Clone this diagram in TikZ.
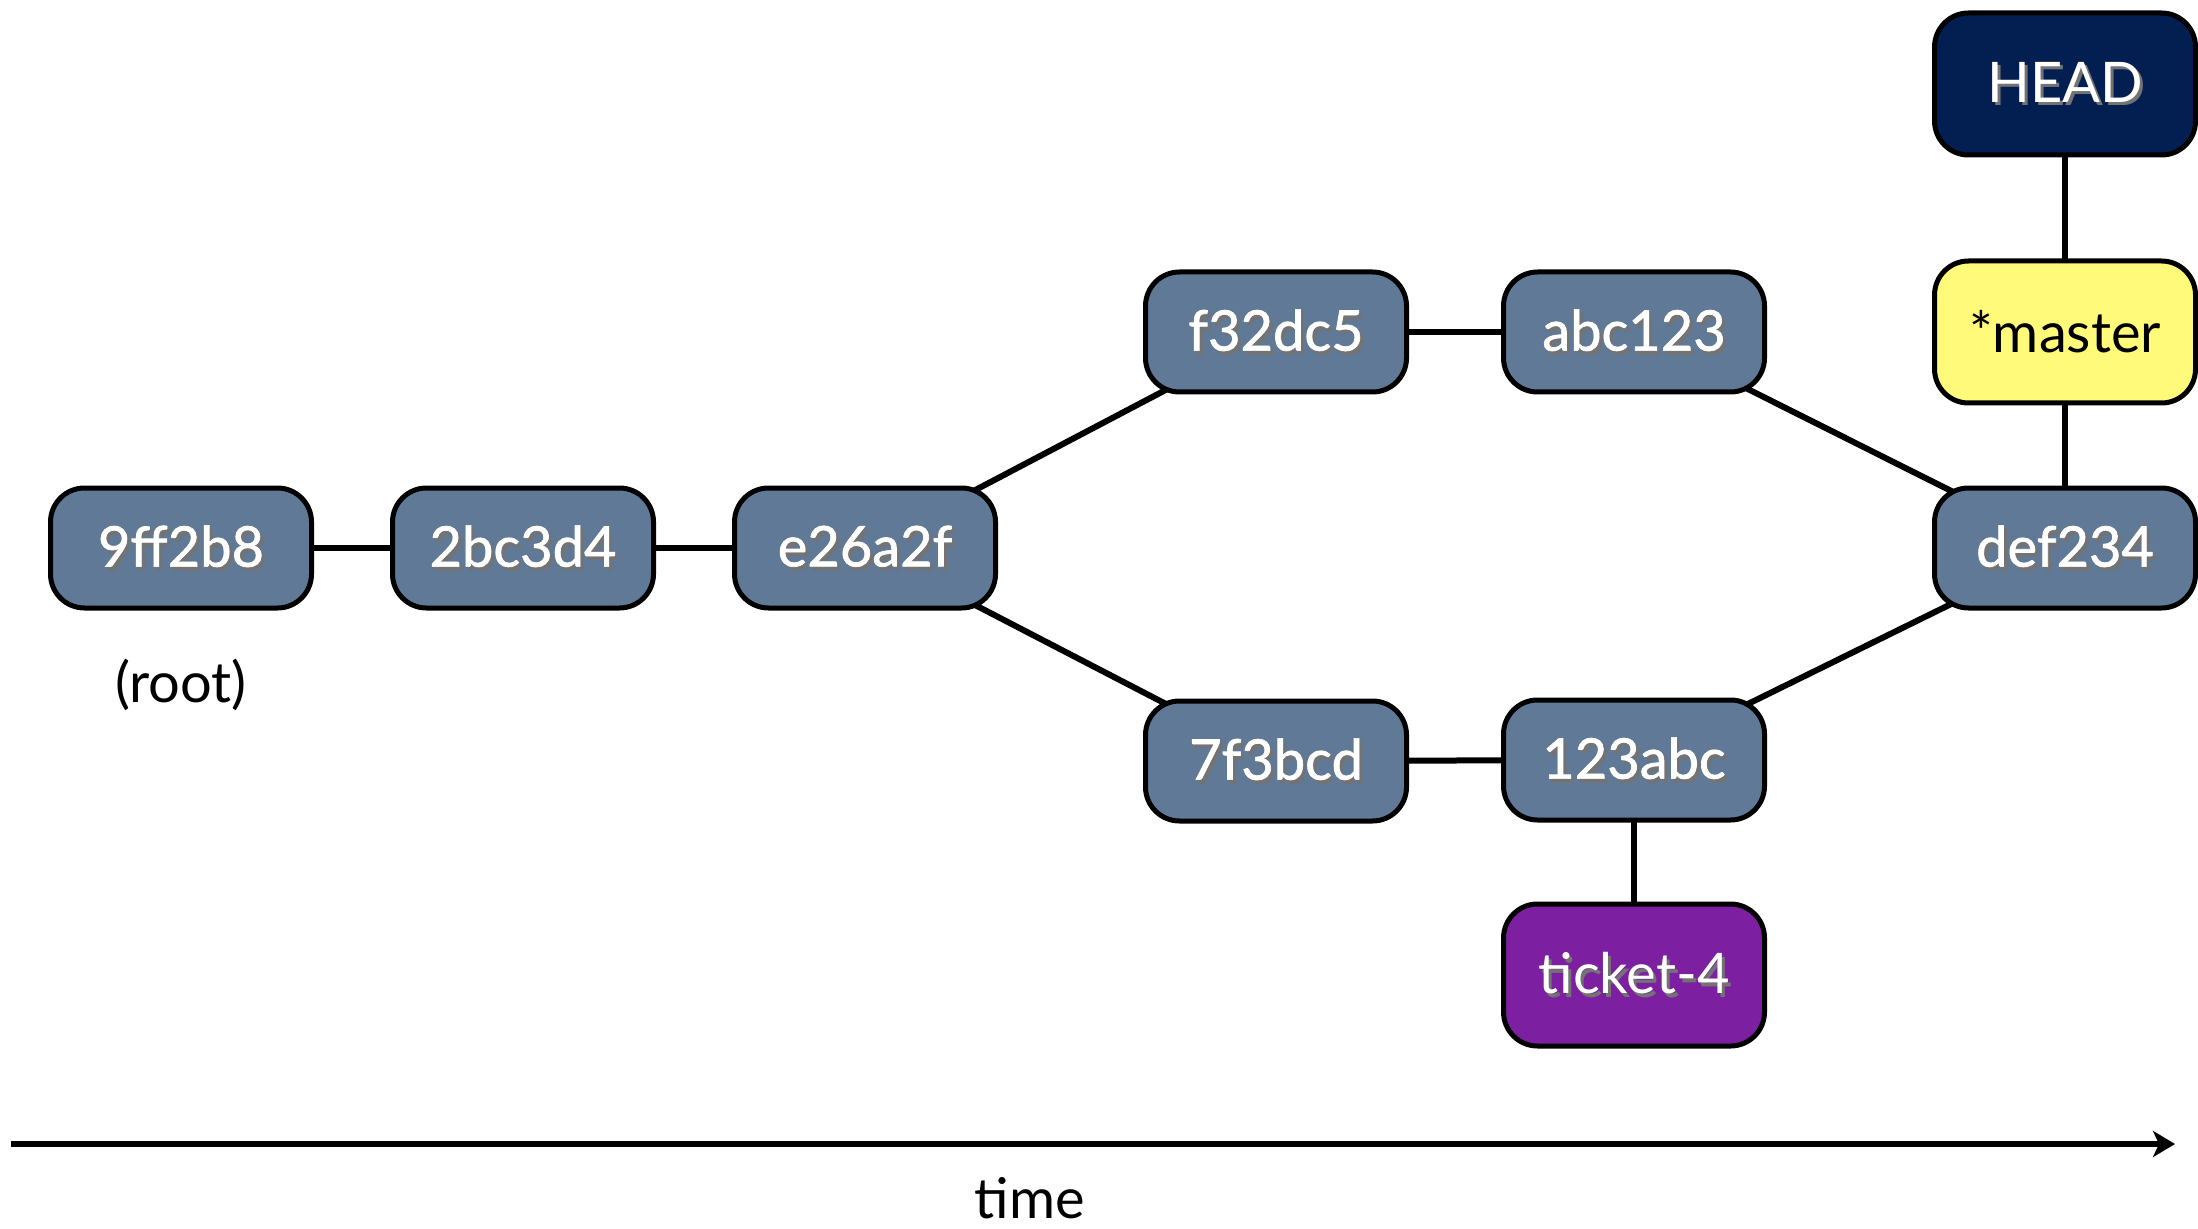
\documentclass[tikz,border=0pt]{standalone}
\usepackage{fontspec}
\setmainfont{Lato}
\newfontfamily\boxfont[FakeBold=1.2]{Lato}
\usetikzlibrary{arrows.meta,backgrounds}
\definecolor{commitfill}{RGB}{95,121,151}
\definecolor{headfill}{RGB}{3,30,80}
\definecolor{masterfill}{RGB}{255,250,122}
\definecolor{ticketfill}{RGB}{124,31,160}
\newcommand\shadowtxt[1]{\makebox[0pt][l]{\hspace{1.5pt}\raisebox{-1.8pt}{\textcolor{black!55}{#1}}}#1}
\tikzset{
  commit/.style={draw=black, line width=2.5pt, rounded corners=17pt, fill=commitfill,
    minimum width=130.5pt, minimum height=60pt, text=white, inner sep=0pt,
    font=\boxfont\fontsize{28}{30}\selectfont},
  refbox/.style={draw=black, line width=2.5pt, rounded corners=17pt,
    minimum width=130.5pt, minimum height=71pt, inner sep=0pt,
    font=\fontsize{28}{30}\selectfont},
  link/.style={line width=3pt, draw=black},
  plain/.style={font=\fontsize{28}{32}\selectfont, text=black, inner sep=0pt}
}
\begin{document}
\begin{tikzpicture}[x=0.5pt,y=-0.5pt]
\useasboundingbox (0,0) rectangle (2198,1229);
\node[commit] (c1) at (181,548) {\shadowtxt{9ff2b8}};
\node[commit] (c2) at (523,548) {\shadowtxt{2bc3d4}};
\node[commit] (c3) at (865,548) {\shadowtxt{e26a2f}};
\node[commit] (c4) at (1276,332) {\shadowtxt{f32dc5}};
\node[commit] (c5) at (1634,332) {\shadowtxt{abc123}};
\node[commit] (c6) at (2065,548) {\shadowtxt{def234}};
\node[commit] (c7) at (1276,761) {\shadowtxt{7f3bcd}};
\node[commit] (c8) at (1634,760) {\shadowtxt{123abc}};
\node[refbox, fill=ticketfill, text=white] (ticket) at (1634,975) {\shadowtxt{ticket-4}};
\node[refbox, fill=masterfill, text=black] (master) at (2065,332) {*master};
\node[refbox, fill=headfill, text=white] (head) at (2065,84) {\shadowtxt{HEAD}};
\node[plain] (root) at (181,685) {(root)};
\begin{scope}[on background layer]
\draw[link] (c1.center) -- (c2.center);
\draw[link] (c2.center) -- (c3.center);
\draw[link] (c3.center) -- (c4.center);
\draw[link] (c4.center) -- (c5.center);
\draw[link] (c5.center) -- (c6.center);
\draw[link] (c3.center) -- (c7.center);
\draw[link] (c7.center) -- (c8.center);
\draw[link] (c8.center) -- (c6.center);
\draw[link] (c8.center) -- (ticket.center);
\draw[link] (c6.center) -- (master.center);
\draw[link] (master.center) -- (head.center);
\end{scope}
\coordinate (tstart) at (11,1144);
\coordinate (tend) at (2175,1144);
\draw[line width=3.2pt, -{Stealth[length=11pt,width=13pt,inset=3pt]}] (tstart) -- (tend);
\node[plain] (time) at (1030,1198) {time};
\end{tikzpicture}
\end{document}
